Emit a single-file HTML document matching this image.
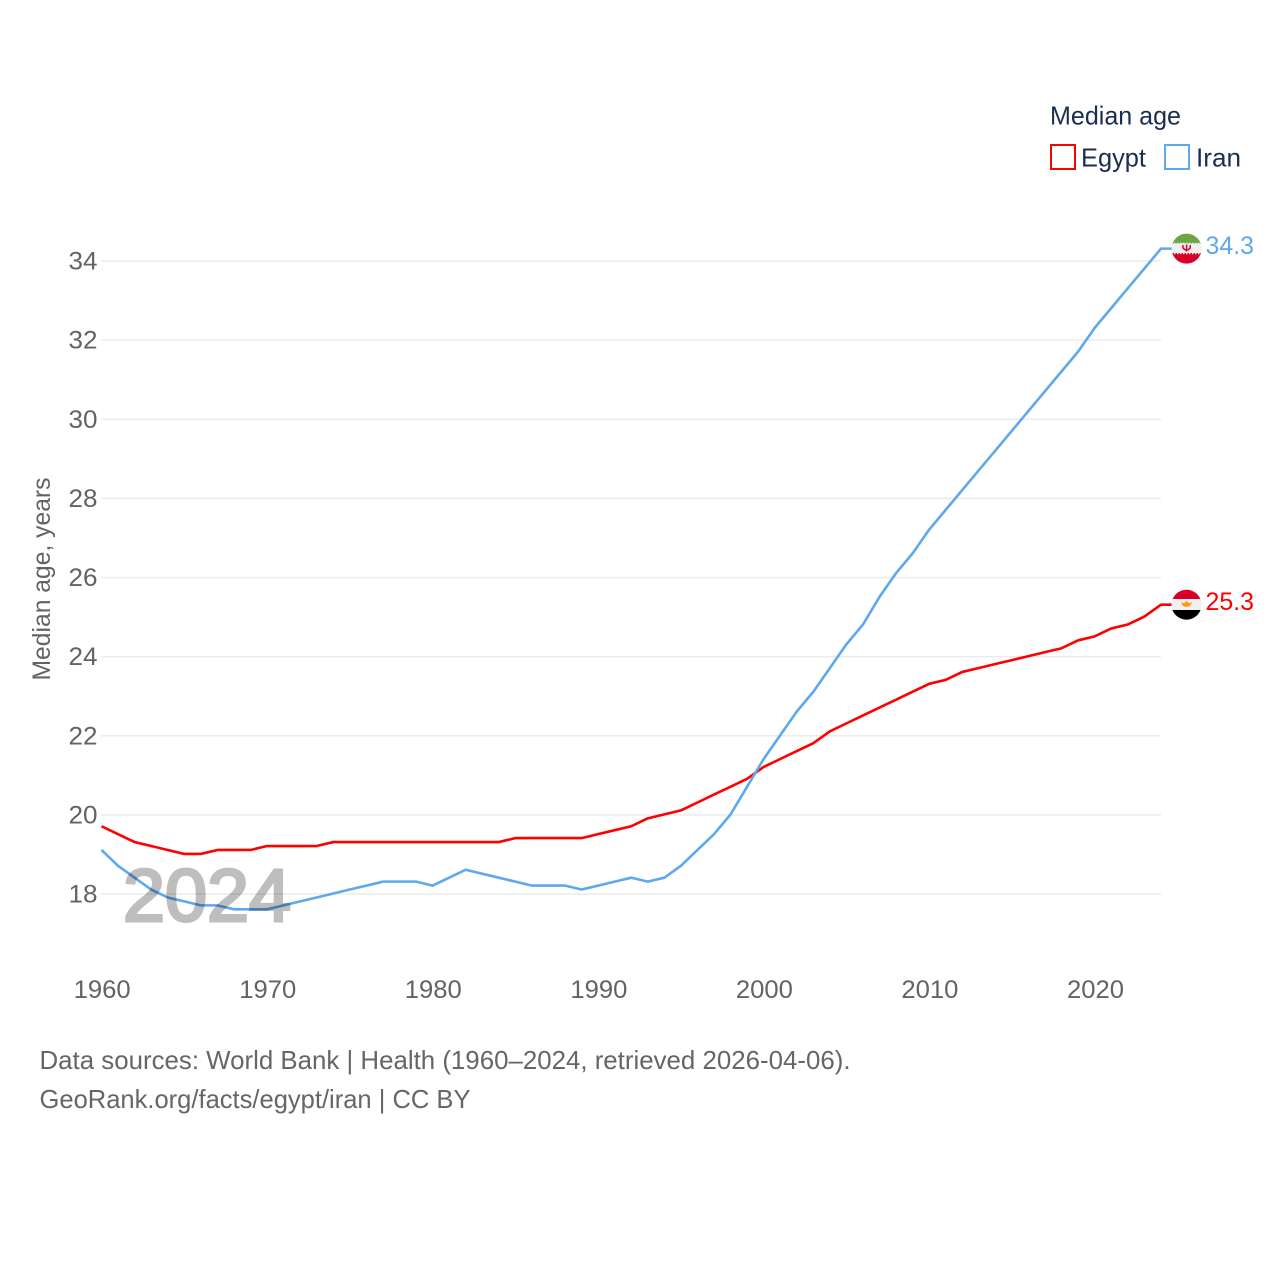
<!DOCTYPE html>
<html lang="en">
<head>
<meta charset="utf-8">
<title>Median age: Egypt and Iran</title>
<style>
html,body{margin:0;padding:0;background:#fff;width:1280px;height:1280px;overflow:hidden}
svg{display:block}
text{font-family:"Liberation Sans",sans-serif}
</style>
</head>
<body>
<svg id="chart" xmlns="http://www.w3.org/2000/svg" width="1280" height="1280" viewBox="0 0 1280 1280">
  <g id="grid"></g>
  <g id="yticks"></g>
  <g id="xticks"></g>
  <text transform="translate(50,579) rotate(-90)" text-anchor="middle" font-size="25" fill="#636363" textLength="203" lengthAdjust="spacingAndGlyphs">Median age, years</text>
  <g id="series"></g>
  <g opacity="0.25">
    <text x="123" y="921" font-size="74" fill="#000" stroke="#000" stroke-width="3" textLength="168" lengthAdjust="spacingAndGlyphs">2024</text>
  </g>

  <g>
    <text x="1050" y="124.5" font-size="26" fill="#1a2e4f" textLength="131" lengthAdjust="spacingAndGlyphs">Median age</text>
    <g>
      <rect x="1051" y="145" width="24" height="24" fill="#fff" stroke="#ff0000" stroke-width="2"/>
      <text x="1081" y="166.5" font-size="26" fill="#1a2e4f" textLength="65" lengthAdjust="spacingAndGlyphs">Egypt</text>
    </g>
    <g>
      <rect x="1165" y="145" width="24" height="24" fill="#fff" stroke="#5ea8ee" stroke-width="2"/>
      <text x="1196" y="166.5" font-size="26" fill="#1a2e4f" textLength="45" lengthAdjust="spacingAndGlyphs">Iran</text>
    </g>
  </g>

  <defs>
    <clipPath id="flag-clip-iran"><circle cx="1186.6" cy="248.6" r="15"/></clipPath>
    <clipPath id="flag-clip-egypt"><circle cx="1186.5" cy="604.7" r="15"/></clipPath>
  </defs>
  <g clip-path="url(#flag-clip-iran)">
    <rect x="1171" y="233" width="32" height="11" fill="#6da544"/>
    <rect x="1171" y="243.5" width="32" height="10" fill="#f0f0f0"/>
    <rect x="1171" y="253" width="32" height="12" fill="#d80027"/>
    <line x1="1171" x2="1203" y1="243.5" y2="243.5" stroke="#f0f0f0" stroke-width="1.4" stroke-dasharray="1.5 1.5"/>
    <line x1="1171" x2="1203" y1="253.5" y2="253.5" stroke="#f0f0f0" stroke-width="1.4" stroke-dasharray="1.5 1.5"/>
    <path d="M1183 245 v3 q3.6 4 7.2 0 v-3 M1186.6 244.5 v7" fill="none" stroke="#d80027" stroke-width="1.5"/>
  </g>
  <g clip-path="url(#flag-clip-egypt)">
    <rect x="1171" y="589" width="32" height="10.5" fill="#d80027"/>
    <rect x="1171" y="599" width="32" height="11.5" fill="#f0f0f0"/>
    <rect x="1171" y="610" width="32" height="11" fill="#000"/>
    <path d="M1181 602 l3 1.2 l2.5 -2.2 l2.5 2.2 l3 -1.2 l-2 4 l-3.5 1 l-3.5 -1 z" fill="#ff9811"/>
  </g>
  <text id="label-iran" x="1205.5" y="254" font-size="25" fill="#5ea8ee" textLength="48.5" lengthAdjust="spacingAndGlyphs"></text>
  <text id="label-egypt" x="1205.5" y="610" font-size="25" fill="#ff0000" textLength="48.5" lengthAdjust="spacingAndGlyphs"></text>

  <g>
    <text x="39.5" y="1069" font-size="26" fill="#666" textLength="811" lengthAdjust="spacingAndGlyphs">Data sources: World Bank | Health (1960–2024, retrieved 2026-04-06).</text>
    <text x="39.5" y="1108" font-size="26" fill="#666" textLength="431" lengthAdjust="spacingAndGlyphs">GeoRank.org/facts/egypt/iran | CC BY</text>
  </g>
</svg>
<script>
const years = [1960,1961,1962,1963,1964,1965,1966,1967,1968,1969,1970,1971,1972,1973,1974,1975,1976,1977,1978,1979,1980,1981,1982,1983,1984,1985,1986,1987,1988,1989,1990,1991,1992,1993,1994,1995,1996,1997,1998,1999,2000,2001,2002,2003,2004,2005,2006,2007,2008,2009,2010,2011,2012,2013,2014,2015,2016,2017,2018,2019,2020,2021,2022,2023,2024];
const egypt = [19.7,19.5,19.3,19.2,19.1,19.0,19.0,19.1,19.1,19.1,19.2,19.2,19.2,19.2,19.3,19.3,19.3,19.3,19.3,19.3,19.3,19.3,19.3,19.3,19.3,19.4,19.4,19.4,19.4,19.4,19.5,19.6,19.7,19.9,20.0,20.1,20.3,20.5,20.7,20.9,21.2,21.4,21.6,21.8,22.1,22.3,22.5,22.7,22.9,23.1,23.3,23.4,23.6,23.7,23.8,23.9,24.0,24.1,24.2,24.4,24.5,24.7,24.8,25.0,25.3];
const iran = [19.1,18.7,18.4,18.1,17.9,17.8,17.7,17.7,17.6,17.6,17.6,17.7,17.8,17.9,18.0,18.1,18.2,18.3,18.3,18.3,18.2,18.4,18.6,18.5,18.4,18.3,18.2,18.2,18.2,18.1,18.2,18.3,18.4,18.3,18.4,18.7,19.1,19.5,20.0,20.7,21.4,22.0,22.6,23.1,23.7,24.3,24.8,25.5,26.1,26.6,27.2,27.7,28.2,28.7,29.2,29.7,30.2,30.7,31.2,31.7,32.3,32.8,33.3,33.8,34.3];
const yTickValues = [18,20,22,24,26,28,30,32,34];
const xTickValues = [1960,1970,1980,1990,2000,2010,2020];

const NS = 'http://www.w3.org/2000/svg';
const xScale = function (year) { return 101.5 + (year - 1960) * (1161 - 101.5) / 64; };
const yScale = function (v) { return 894 - (v - 18) * (894 - 261) / 16; };

const gridG = document.getElementById('grid');
const yG = document.getElementById('yticks');
const xG = document.getElementById('xticks');
const seriesG = document.getElementById('series');

yTickValues.forEach(function (v) {
  const line = document.createElementNS(NS, 'line');
  
  
  line.setAttribute('x1', 101);
  line.setAttribute('x2', 1161);
  line.setAttribute('y1', yScale(v));
  line.setAttribute('y2', yScale(v));
  line.setAttribute('stroke', '#ebebeb');
  line.setAttribute('stroke-width', '1.5');
  gridG.appendChild(line);

  const t = document.createElementNS(NS, 'text');
  
  
  t.setAttribute('x', 97.5);
  t.setAttribute('y', yScale(v) + 8.5);
  t.setAttribute('text-anchor', 'end');
  t.setAttribute('font-size', '25');
  t.setAttribute('fill', '#636363');
  t.setAttribute('textLength', '29');
  t.setAttribute('lengthAdjust', 'spacingAndGlyphs');
  t.textContent = String(v);
  yG.appendChild(t);
});

xTickValues.forEach(function (yr) {
  const t = document.createElementNS(NS, 'text');
  
  
  t.setAttribute('x', xScale(yr) + 0.7);
  t.setAttribute('y', 998);
  t.setAttribute('text-anchor', 'middle');
  t.setAttribute('font-size', '25');
  t.setAttribute('fill', '#636363');
  t.setAttribute('textLength', '57');
  t.setAttribute('lengthAdjust', 'spacingAndGlyphs');
  t.textContent = String(yr);
  xG.appendChild(t);
});

function drawSeries(values, color, name) {
  const pts = values.map(function (v, i) { return xScale(years[i]).toFixed(2) + ',' + (yScale(v) - 0.5).toFixed(2); });
  const lastY = (yScale(values[values.length - 1]) - 0.5).toFixed(2);
  pts.push('1172,' + lastY);
  const line = document.createElementNS(NS, 'polyline');
  
  
  line.setAttribute('points', pts.join(' '));
  line.setAttribute('fill', 'none');
  line.setAttribute('stroke', color);
  line.setAttribute('stroke-width', '2.6');
  line.setAttribute('stroke-linejoin', 'round');
  seriesG.appendChild(line);
}
drawSeries(egypt, '#ff0000', 'egypt');
drawSeries(iran, '#5ea8ee', 'iran');

document.getElementById('label-iran').textContent = iran[iran.length - 1].toFixed(1);
document.getElementById('label-egypt').textContent = egypt[egypt.length - 1].toFixed(1);
</script>
</body>
</html>
